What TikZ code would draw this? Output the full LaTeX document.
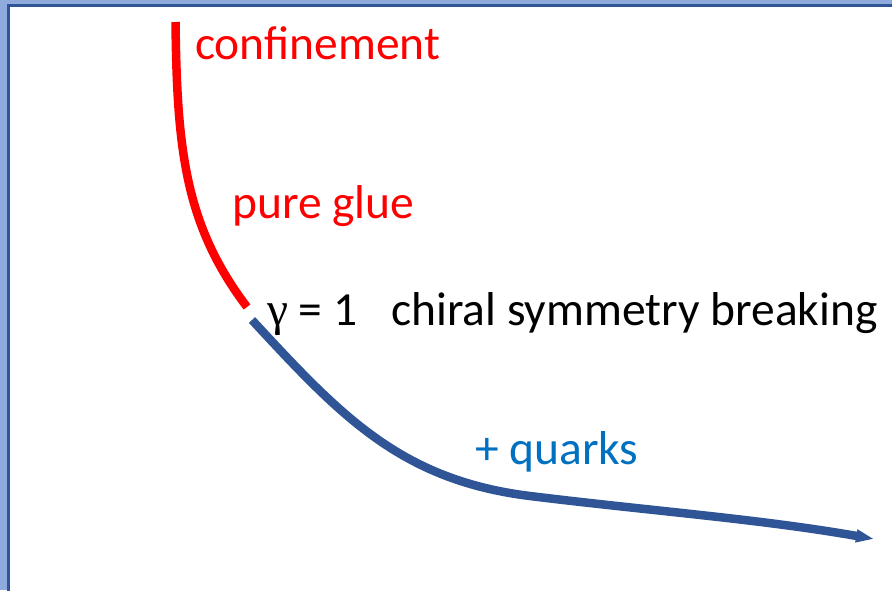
\documentclass[tikz,border=0pt]{standalone}
\usepackage{fontspec}
\setmainfont{Carlito}
\newfontfamily\greekfont{Liberation Serif}
\usepackage{xcolor}
\usetikzlibrary{arrows.meta, positioning}
\definecolor{frameblue}{HTML}{8FAADC}
\definecolor{curveblue}{HTML}{2F5597}
\definecolor{quarkblue}{HTML}{0070C0}
\definecolor{gluered}{HTML}{FF0000}
\tikzset{
	phaselabel/.style={anchor=base west, inner sep=0pt, font=\fontsize{47.5}{56}\selectfont},
	phasecurve/.style={line width=8.5pt, line cap=butt}
}

\begin{document}
\begin{tikzpicture}[x=1pt, y=-1pt]
			% Frame:
			\useasboundingbox (0, 0) rectangle (892, 590);
			\fill[frameblue] (0, 0) rectangle (892, 590);
			\draw[curveblue, line width=3pt, fill=white] (8.5, 5.5) rectangle (905, 605);
			% Curve points:
			\coordinate (C1) at (175.5, 22);
			\coordinate (C2) at (247, 307);
			\coordinate (C3) at (252, 320);
			\coordinate (C4) at (530, 496);
			\coordinate (C5) at (874, 539);
			% Paths:
			\draw[phasecurve, gluered] (C1) .. controls (177, 150) and (185, 225) .. (C2);
			\draw[phasecurve, curveblue, -{Triangle[length=18pt, width=12pt]}] (C3) .. controls (340, 415) and (400, 480) .. (C4) .. controls (650, 510.8) and (760, 519) .. (C5);
			% Labels:
			\node[phaselabel, text=gluered](N1) at (195, 59){confinement};
			\node[phaselabel, text=gluered](N2) at (232, 218){pure glue};
			\node[phaselabel](N3) at (267, 325){{\greekfont γ} = 1};
			\node[phaselabel](N4) at (391, 325){chiral symmetry breaking};
			\node[phaselabel, text=quarkblue](N5) at (475, 464){+ quarks};
		\end{tikzpicture}
\end{document}
